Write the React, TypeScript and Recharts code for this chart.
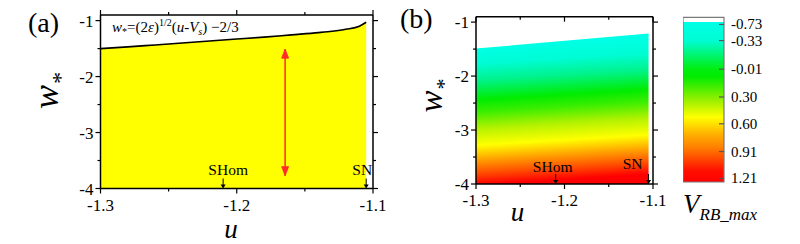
import React from 'react';
import { ComposedChart, Area, Scatter, XAxis, YAxis, ReferenceArea } from 'recharts';

// axis ticks
const uTicks = [-1.3, -1.25, -1.2, -1.15, -1.1];
const uMajor = [-1.3, -1.2, -1.1];
const wTicks = [-1, -1.5, -2, -2.5, -3, -3.5, -4];
const wMajor = [-1, -2, -3, -4];

// (a) upper boundary w* = (2eps)^1/2 (u - Vs) - 2/3
const boundaryA = [
  { u: -1.3, w: -1.5 },
  { u: -1.28, w: -1.47 },
  { u: -1.26, w: -1.435 },
  { u: -1.24, w: -1.4 },
  { u: -1.22, w: -1.365 },
  { u: -1.2, w: -1.33 },
  { u: -1.18, w: -1.295 },
  { u: -1.16, w: -1.255 },
  { u: -1.14, w: -1.215 },
  { u: -1.13, w: -1.19 },
  { u: -1.12, w: -1.155 },
  { u: -1.11, w: -1.1 },
  { u: -1.105, w: -1.03 },
];

// (b) upper edge of the coloured region
const boundaryB = [
  { u: -1.3, w: -1.49 },
  { u: -1.105, w: -1.21 },
];

const markers = [
  { u: -1.21, w: -4, label: 'SHom' },
  { u: -1.105, w: -4, label: 'SN' },
];

const redArrow = [
  { u: -1.1645, w: -1.51, dir: 'up' },
  { u: -1.1645, w: -3.77, dir: 'down' },
];

// colour bar
const cbLabels = ['-0.73', '-0.33', '-0.01', '0.30', '0.60', '0.91', '1.21'];
const cbTickAt = [-0.51, -0.33, -0.01, 0.3, 0.6, 0.91, 1.21];
const cbRange = [-0.59, 1.25];

const serif = '"Liberation Serif", "Times New Roman", serif';
const W_DOMAIN: [number, number] = [-4, -0.9];
const U_DOMAIN: [number, number] = [-1.3, -1.1];

const gradB = [
  [0, '#00ffe8'],
  [0.1, '#00ffe4'],
  [0.2, '#00fcd4'],
  [0.31, '#00f38c'],
  [0.44, '#00ec00'],
  [0.52, '#3cee00'],
  [0.63, '#b4f200'],
  [0.74, '#ffff00'],
  [0.84, '#ff9c00'],
  [0.92, '#ff5000'],
  [1, '#ff0000'],
];

const gradCB = [
  [0, '#ffffff'],
  [0.026, '#ffffff'],
  [0.03, '#00ffe6'],
  [0.144, '#00fcd2'],
  [0.314, '#00ee10'],
  [0.36, '#00ec00'],
  [0.51, '#a0f000'],
  [0.606, '#ffff00'],
  [0.71, '#ffb000'],
  [0.79, '#ff8000'],
  [0.85, '#ff5000'],
  [0.93, '#ff1000'],
  [1, '#ff0000'],
];

function AxisTick(props: any) {
  const { x, y, payload, side, major, label, inward, fontSize = 17, format } = props;
  const v = payload.value;
  const isMajor = major.some((m: number) => Math.abs(m - v) < 1e-9);
  const len = isMajor ? 5 : 3;
  const s = inward ? -1 : 1;
  const text = format ? format(v) : String(v);
  if (side === 'bottom') {
    return (
      <g>
        <line x1={x} y1={y} x2={x} y2={y + s * len} stroke="#000" strokeWidth={1.2} />
        {label && isMajor && (
          <text x={x} y={y + 22} textAnchor="middle" fontFamily={serif} fontSize={fontSize} fill="#000">
            {text}
          </text>
        )}
      </g>
    );
  }
  if (side === 'top') {
    return <line x1={x} y1={y} x2={x} y2={y - s * len} stroke="#000" strokeWidth={1.2} />;
  }
  if (side === 'left') {
    return (
      <g>
        <line x1={x} y1={y} x2={x - s * len} y2={y} stroke="#000" strokeWidth={1.2} />
        {label && isMajor && (
          <text x={x - 7} y={y + 6} textAnchor="end" fontFamily={serif} fontSize={fontSize} fill="#000">
            {text}
          </text>
        )}
      </g>
    );
  }
  // right
  return (
    <g>
      <line x1={x} y1={y} x2={x + s * len} y2={y} stroke={inward ? '#555' : '#000'} strokeWidth={1.2} />
      {label && (
        <text x={x + 7} y={y + 5} textAnchor="start" fontFamily={serif} fontSize={fontSize} fill="#000">
          {text}
        </text>
      )}
    </g>
  );
}

function markerShape(offsets: Record<string, [number, number]>) {
  return (p: any) => {
    const { cx, cy, payload } = p;
    const [dx, dy] = offsets[payload.label];
    return (
      <g>
        <line x1={cx} y1={cy - 10} x2={cx} y2={cy - 3} stroke="#000" strokeWidth={1} />
        <polygon points={`${cx - 2.5},${cy - 4} ${cx + 2.5},${cy - 4} ${cx},${cy}`} fill="#000" />
        <text x={cx + dx} y={cy + dy} textAnchor="middle" fontFamily={serif} fontSize={15.5} fill="#000">
          {payload.label}
        </text>
      </g>
    );
  };
}

function arrowHead(p: any) {
  const { cx, cy, payload } = p;
  const d = payload.dir === 'up' ? 1 : -1;
  return (
    <polygon
      points={`${cx - 3.5},${cy + d * 9} ${cx},${cy} ${cx + 3.5},${cy + d * 9}`}
      fill="#ff2a2a"
      stroke="#ff2a2a"
      strokeWidth={0.8}
    />
  );
}

function Frame({ panel }: { panel: 'a' | 'b' }) {
  const inwardTop = panel === 'b';
  return [
    <XAxis
      key="xb"
      xAxisId={0}
      dataKey="u"
      type="number"
      domain={U_DOMAIN}
      allowDataOverflow
      ticks={uTicks}
      interval={0}
      height={1}
      tickSize={0}
      tickMargin={0}
      tickLine={false}
      axisLine={{ stroke: '#000', strokeWidth: 1.5 }}
      tick={(p: any) => <AxisTick {...p} side="bottom" major={uMajor} label />}
    />,
    <XAxis
      key="xt"
      xAxisId={1}
      orientation="top"
      dataKey="u"
      type="number"
      domain={U_DOMAIN}
      allowDataOverflow
      ticks={uTicks}
      interval={0}
      height={1}
      tickSize={0}
      tickMargin={0}
      tickLine={false}
      axisLine={{ stroke: '#000', strokeWidth: 1.5 }}
      tick={(p: any) => <AxisTick {...p} side="top" major={uMajor} inward={inwardTop} />}
    />,
    <YAxis
      key="yl"
      yAxisId={0}
      type="number"
      domain={W_DOMAIN}
      allowDataOverflow
      ticks={wTicks}
      interval={0}
      width={1}
      tickSize={0}
      tickMargin={0}
      tickLine={false}
      axisLine={{ stroke: '#000', strokeWidth: 1.5 }}
      tick={(p: any) => <AxisTick {...p} side="left" major={wMajor} label />}
    />,
    <YAxis
      key="yr"
      yAxisId={1}
      orientation="right"
      type="number"
      domain={W_DOMAIN}
      allowDataOverflow
      ticks={wTicks}
      interval={0}
      width={1}
      tickSize={0}
      tickMargin={0}
      tickLine={false}
      axisLine={{ stroke: '#000', strokeWidth: 1.5 }}
      tick={(p: any) => <AxisTick {...p} side="right" major={wMajor} />}
    />,
  ];
}

function PanelA() {
  return (
    <ComposedChart width={400} height={244} data={boundaryA} margin={{ top: 14, right: 26, bottom: 54.5, left: 99.5 }}>
      {Frame({ panel: 'a' })}
      <Area
        dataKey="w"
        type="monotone"
        baseValue={-4}
        fill="#ffff00"
        fillOpacity={1}
        stroke="#000"
        strokeWidth={1.6}
        dot={false}
        activeDot={false}
        isAnimationActive={false}
      />
      <Scatter
        data={redArrow}
        dataKey="w"
        line={{ stroke: '#ff2a2a', strokeWidth: 1.5 }}
        shape={arrowHead}
        isAnimationActive={false}
      />
      <Scatter
        data={markers}
        dataKey="w"
        shape={markerShape({ SHom: [5, -13.5], SN: [-4, -13.5] })}
        isAnimationActive={false}
      />
    </ComposedChart>
  );
}

function PanelB() {
  return (
    <ComposedChart width={330} height={244} data={boundaryB} margin={{ top: 15.7, right: 76, bottom: 59, left: 75 }}>
      <defs>
        <linearGradient id="gradB" x1="0" y1="0" x2="0.07" y2="1">
          {gradB.map(([o, c]) => (
            <stop key={String(o)} offset={o as number} stopColor={c as string} />
          ))}
        </linearGradient>
      </defs>
      {Frame({ panel: 'b' })}
      <Area
        dataKey="w"
        type="linear"
        baseValue={-4}
        fill="url(#gradB)"
        fillOpacity={1}
        stroke="none"
        dot={false}
        activeDot={false}
        isAnimationActive={false}
      />
      <Scatter
        data={markers}
        dataKey="w"
        shape={markerShape({ SHom: [-3, -12], SN: [-16, -15] })}
        isAnimationActive={false}
      />
    </ComposedChart>
  );
}

function ColorBar() {
  const pts = [{ x: 0 }, { x: 1 }];
  return (
    <ComposedChart width={117} height={244} data={pts} margin={{ top: 17.3, right: 75, bottom: 62, left: 0 }}>
      <defs>
        <linearGradient id="gradCB" x1="0" y1="0" x2="0" y2="1">
          {gradCB.map(([o, c]) => (
            <stop key={String(o)} offset={o as number} stopColor={c as string} />
          ))}
        </linearGradient>
      </defs>
      <XAxis dataKey="x" type="number" domain={[0, 1]} hide />
      <YAxis
        orientation="right"
        type="number"
        domain={cbRange}
        reversed
        allowDataOverflow
        ticks={cbTickAt}
        interval={0}
        width={1}
        tickSize={0}
        tickMargin={0}
        tickLine={false}
        axisLine={false}
        tick={(p: any) => (
          <AxisTick
            {...p}
            side="right"
            major={cbTickAt}
            inward
            label
            fontSize={15}
            format={(v: number) => cbLabels[cbTickAt.indexOf(v)]}
          />
        )}
      />
      <ReferenceArea y1={cbRange[0]} y2={cbRange[1]} fill="url(#gradCB)" fillOpacity={1} stroke="#7a7a7a" strokeWidth={1.2} />
    </ComposedChart>
  );
}

export default function App() {
  return (
    <div style={{ position: 'absolute', left: 0, top: 0, width: 800, height: 244, background: '#fff' }}>
      <div style={{ position: 'absolute', left: 0, top: 0 }}>
        <PanelA />
      </div>
      <div style={{ position: 'absolute', left: 400, top: 0 }}>
        <PanelB />
      </div>
      <div style={{ position: 'absolute', left: 683, top: 0 }}>
        <ColorBar />
      </div>
      <svg width={800} height={244} style={{ position: 'absolute', left: 0, top: 0, pointerEvents: 'none' }}>
        <g fontFamily={serif} fill="#000">
          <text x={28} y={32} fontSize={28}>(a)</text>
          <text x={400} y={28} fontSize={28}>(b)</text>
          <text x={112} y={32} fontSize={15}>
            <tspan fontStyle="italic">w</tspan>
            <tspan fontSize={10} dy={3}>*</tspan>
            <tspan dy={-3}>=(2</tspan>
            <tspan fontStyle="italic">ε</tspan>
            <tspan>)</tspan>
            <tspan fontSize={10} dy={-6}>1/2</tspan>
            <tspan dy={6}>(</tspan>
            <tspan fontStyle="italic">u</tspan>
            <tspan>-</tspan>
            <tspan fontStyle="italic">V</tspan>
            <tspan fontSize={10} fontStyle="italic" dy={3}>s</tspan>
            <tspan dy={-3}>) −2/3</tspan>
          </text>
          <text transform="translate(58,91) rotate(-90)" textAnchor="middle" fontStyle="italic">
            <tspan fontSize={36}>w</tspan>
            <tspan fontSize={24} dy={10}>*</tspan>
          </text>
          <text transform="translate(441.7,96) rotate(-90)" textAnchor="middle" fontStyle="italic">
            <tspan fontSize={33}>w</tspan>
            <tspan fontSize={22} dy={9}>*</tspan>
          </text>
          <text x={231} y={238} fontSize={27} fontStyle="italic" textAnchor="middle">u</text>
          <text x={517.5} y={221} fontSize={27} fontStyle="italic" textAnchor="middle">u</text>
          <text x={683} y={213} fontStyle="italic">
            <tspan fontSize={27}>V</tspan>
            <tspan fontSize={17} dy={7}>RB_max</tspan>
          </text>
        </g>
      </svg>
    </div>
  );
}
